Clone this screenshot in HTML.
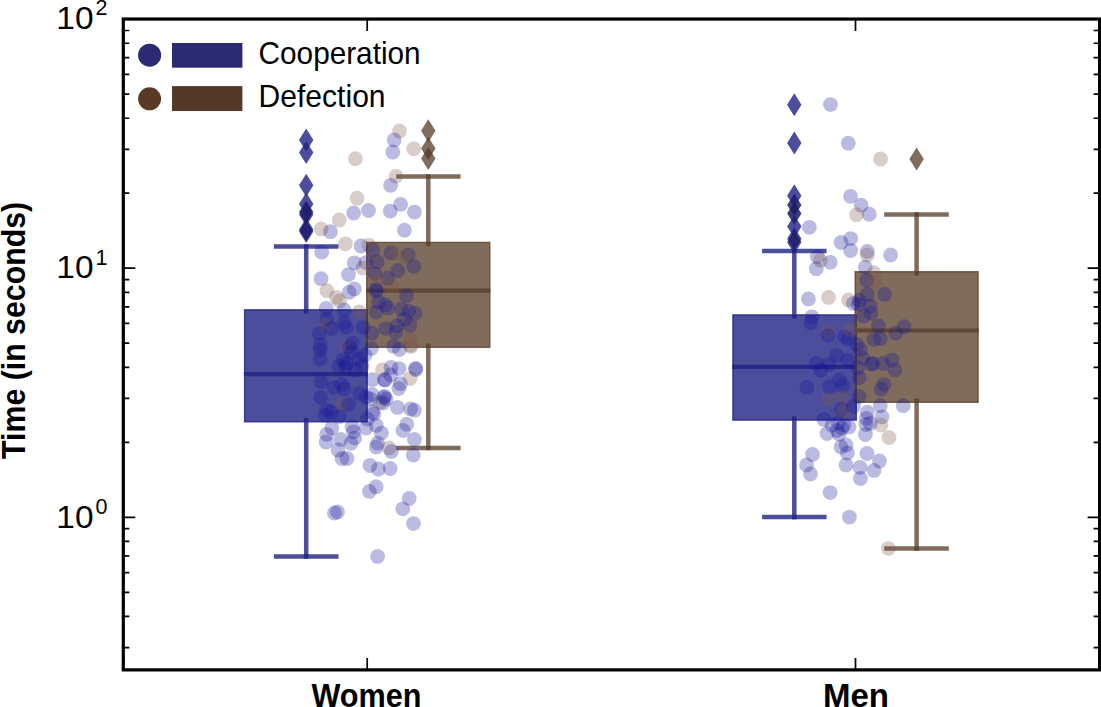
<!DOCTYPE html>
<html><head><meta charset="utf-8"><style>
html,body{margin:0;padding:0;background:#fff;width:1101px;height:707px;overflow:hidden}
svg{display:block}
text{font-family:"Liberation Sans",sans-serif;fill:#000}
.bl{font-weight:bold}
</style></head><body>
<svg width="1101" height="707" viewBox="0 0 1101 707">
<rect x="244.6" y="309.8" width="122.60" height="112.00" fill="rgba(31,34,131,0.8)" stroke="rgba(31,34,131,0.8)" stroke-width="1.4"/>
<line x1="306.2" y1="313.6" x2="306.2" y2="244.15" stroke="rgba(31,34,131,0.8)" stroke-width="4.5"/>
<line x1="306.2" y1="418.0" x2="306.2" y2="558.75" stroke="rgba(31,34,131,0.8)" stroke-width="4.5"/>
<line x1="273.9" y1="246.4" x2="338.5" y2="246.4" stroke="rgba(31,34,131,0.8)" stroke-width="4.5"/>
<line x1="273.9" y1="556.5" x2="338.5" y2="556.5" stroke="rgba(31,34,131,0.8)" stroke-width="4.5"/>
<line x1="243.9" y1="374.2" x2="367.9" y2="374.2" stroke="rgba(31,34,131,0.8)" stroke-width="4.2"/>
<path d="M306.2 128.6L313.4 140.1L306.2 151.6L299.0 140.1Z" fill="rgba(31,34,131,0.8)"/>
<path d="M306.2 140.9L313.4 152.4L306.2 163.9L299.0 152.4Z" fill="rgba(31,34,131,0.8)"/>
<path d="M306.2 173.8L313.4 185.3L306.2 196.8L299.0 185.3Z" fill="rgba(31,34,131,0.8)"/>
<path d="M306.2 192.4L313.4 203.9L306.2 215.4L299.0 203.9Z" fill="rgba(31,34,131,0.8)"/>
<path d="M306.2 200.4L313.4 211.9L306.2 223.4L299.0 211.9Z" fill="rgba(31,34,131,0.8)"/>
<path d="M306.2 203.0L313.4 214.5L306.2 226.0L299.0 214.5Z" fill="rgba(31,34,131,0.8)"/>
<path d="M306.2 218.0L313.4 229.5L306.2 241.0L299.0 229.5Z" fill="rgba(31,34,131,0.8)"/>
<path d="M306.2 220.0L313.4 231.5L306.2 243.0L299.0 231.5Z" fill="rgba(31,34,131,0.8)"/>
<path d="M306.2 201.4L312.8 211.9L306.2 222.4L299.59999999999997 211.9Z" fill="rgba(30,25,70,0.35)"/>
<path d="M306.2 220.0L312.8 230.5L306.2 241.0L299.59999999999997 230.5Z" fill="rgba(30,25,70,0.35)"/>
<rect x="366.7" y="242.39999999999998" width="123.10" height="104.90" fill="rgba(84,59,39,0.75)" stroke="rgba(84,59,39,0.75)" stroke-width="1.4"/>
<line x1="428.3" y1="246.2" x2="428.3" y2="174.25" stroke="rgba(84,59,39,0.75)" stroke-width="4.5"/>
<line x1="428.3" y1="343.5" x2="428.3" y2="450.15" stroke="rgba(84,59,39,0.75)" stroke-width="4.5"/>
<line x1="396.2" y1="176.5" x2="460.6" y2="176.5" stroke="rgba(84,59,39,0.75)" stroke-width="4.5"/>
<line x1="396.2" y1="447.9" x2="460.6" y2="447.9" stroke="rgba(84,59,39,0.75)" stroke-width="4.5"/>
<line x1="366.0" y1="290.7" x2="490.5" y2="290.7" stroke="rgba(84,59,39,0.75)" stroke-width="4.2"/>
<path d="M428.3 119.30000000000001L435.5 130.8L428.3 142.3L421.1 130.8Z" fill="rgba(84,59,39,0.75)"/>
<path d="M428.3 137.1L435.5 148.6L428.3 160.1L421.1 148.6Z" fill="rgba(84,59,39,0.75)"/>
<path d="M428.3 147.0L435.5 158.5L428.3 170.0L421.1 158.5Z" fill="rgba(84,59,39,0.75)"/>
<rect x="732.9000000000001" y="314.9" width="123.40" height="105.20" fill="rgba(31,34,131,0.8)" stroke="rgba(31,34,131,0.8)" stroke-width="1.4"/>
<line x1="794.3" y1="318.7" x2="794.3" y2="248.75" stroke="rgba(31,34,131,0.8)" stroke-width="4.5"/>
<line x1="794.3" y1="416.3" x2="794.3" y2="519.35" stroke="rgba(31,34,131,0.8)" stroke-width="4.5"/>
<line x1="762.1" y1="251.0" x2="826.6" y2="251.0" stroke="rgba(31,34,131,0.8)" stroke-width="4.5"/>
<line x1="762.1" y1="517.1" x2="826.6" y2="517.1" stroke="rgba(31,34,131,0.8)" stroke-width="4.5"/>
<line x1="732.2" y1="366.9" x2="857.0" y2="366.9" stroke="rgba(31,34,131,0.8)" stroke-width="4.2"/>
<path d="M794.3 93.2L801.5 104.7L794.3 116.2L787.0999999999999 104.7Z" fill="rgba(31,34,131,0.8)"/>
<path d="M794.3 131.6L801.5 143.1L794.3 154.6L787.0999999999999 143.1Z" fill="rgba(31,34,131,0.8)"/>
<path d="M794.3 184.3L801.5 195.8L794.3 207.3L787.0999999999999 195.8Z" fill="rgba(31,34,131,0.8)"/>
<path d="M794.3 193.4L801.5 204.9L794.3 216.4L787.0999999999999 204.9Z" fill="rgba(31,34,131,0.8)"/>
<path d="M794.3 201.9L801.5 213.4L794.3 224.9L787.0999999999999 213.4Z" fill="rgba(31,34,131,0.8)"/>
<path d="M794.3 214.9L801.5 226.4L794.3 237.9L787.0999999999999 226.4Z" fill="rgba(31,34,131,0.8)"/>
<path d="M794.3 227.3L801.5 238.8L794.3 250.3L787.0999999999999 238.8Z" fill="rgba(31,34,131,0.8)"/>
<path d="M794.3 230.7L801.5 242.2L794.3 253.7L787.0999999999999 242.2Z" fill="rgba(31,34,131,0.8)"/>
<path d="M794.3 194.4L800.9 204.9L794.3 215.4L787.6999999999999 204.9Z" fill="rgba(30,25,70,0.35)"/>
<path d="M794.3 202.9L800.9 213.4L794.3 223.9L787.6999999999999 213.4Z" fill="rgba(30,25,70,0.35)"/>
<path d="M794.3 230.0L800.9 240.5L794.3 251.0L787.6999999999999 240.5Z" fill="rgba(30,25,70,0.35)"/>
<rect x="855.2" y="271.7" width="122.90" height="130.60" fill="rgba(84,59,39,0.75)" stroke="rgba(84,59,39,0.75)" stroke-width="1.4"/>
<line x1="916.6" y1="275.5" x2="916.6" y2="212.15" stroke="rgba(84,59,39,0.75)" stroke-width="4.5"/>
<line x1="916.6" y1="398.5" x2="916.6" y2="550.85" stroke="rgba(84,59,39,0.75)" stroke-width="4.5"/>
<line x1="884.2" y1="214.4" x2="948.8" y2="214.4" stroke="rgba(84,59,39,0.75)" stroke-width="4.5"/>
<line x1="884.2" y1="548.6" x2="948.8" y2="548.6" stroke="rgba(84,59,39,0.75)" stroke-width="4.5"/>
<line x1="854.5" y1="330.5" x2="978.8" y2="330.5" stroke="rgba(84,59,39,0.75)" stroke-width="4.2"/>
<path d="M916.6 147.4L923.8000000000001 158.9L916.6 170.4L909.4 158.9Z" fill="rgba(84,59,39,0.75)"/>
<circle cx="399.5" cy="131.0" r="7.4" fill="rgba(125,88,72,0.3)"/>
<circle cx="394.2" cy="139.9" r="7.4" fill="rgba(22,22,150,0.29)"/>
<circle cx="392.8" cy="152.0" r="7.4" fill="rgba(22,22,150,0.29)"/>
<circle cx="413.8" cy="148.8" r="7.4" fill="rgba(125,88,72,0.3)"/>
<circle cx="355.4" cy="158.7" r="7.4" fill="rgba(125,88,72,0.3)"/>
<circle cx="396.0" cy="176.2" r="7.4" fill="rgba(125,88,72,0.3)"/>
<circle cx="390.6" cy="185.3" r="7.4" fill="rgba(22,22,150,0.29)"/>
<circle cx="357.0" cy="198.2" r="7.4" fill="rgba(125,88,72,0.3)"/>
<circle cx="400.6" cy="204.3" r="7.4" fill="rgba(22,22,150,0.29)"/>
<circle cx="353.6" cy="213.0" r="7.4" fill="rgba(22,22,150,0.29)"/>
<circle cx="368.5" cy="210.5" r="7.4" fill="rgba(22,22,150,0.29)"/>
<circle cx="390.2" cy="211.1" r="7.4" fill="rgba(22,22,150,0.29)"/>
<circle cx="414.4" cy="212.1" r="7.4" fill="rgba(22,22,150,0.29)"/>
<circle cx="404.4" cy="230.2" r="7.4" fill="rgba(22,22,150,0.29)"/>
<circle cx="339.3" cy="220.0" r="7.4" fill="rgba(125,88,72,0.3)"/>
<circle cx="321.2" cy="228.9" r="7.4" fill="rgba(125,88,72,0.3)"/>
<circle cx="330.4" cy="231.7" r="7.4" fill="rgba(22,22,150,0.29)"/>
<circle cx="345.4" cy="243.8" r="7.4" fill="rgba(125,88,72,0.3)"/>
<circle cx="321.7" cy="252.1" r="7.4" fill="rgba(22,22,150,0.29)"/>
<circle cx="361.0" cy="246.0" r="7.4" fill="rgba(22,22,150,0.29)"/>
<circle cx="368.8" cy="245.1" r="7.4" fill="rgba(125,88,72,0.3)"/>
<circle cx="372.9" cy="249.7" r="7.4" fill="rgba(22,22,150,0.29)"/>
<circle cx="390.9" cy="252.9" r="7.4" fill="rgba(22,22,150,0.29)"/>
<circle cx="396.8" cy="253.4" r="7.4" fill="rgba(125,88,72,0.3)"/>
<circle cx="408.3" cy="254.8" r="7.4" fill="rgba(22,22,150,0.29)"/>
<circle cx="406.5" cy="257.5" r="7.4" fill="rgba(125,88,72,0.3)"/>
<circle cx="413.9" cy="266.3" r="7.4" fill="rgba(22,22,150,0.29)"/>
<circle cx="377.1" cy="261.7" r="7.4" fill="rgba(22,22,150,0.29)"/>
<circle cx="366.0" cy="262.6" r="7.4" fill="rgba(22,22,150,0.29)"/>
<circle cx="362.8" cy="268.1" r="7.4" fill="rgba(125,88,72,0.3)"/>
<circle cx="397.8" cy="270.4" r="7.4" fill="rgba(22,22,150,0.29)"/>
<circle cx="374.8" cy="273.6" r="7.4" fill="rgba(22,22,150,0.29)"/>
<circle cx="387.6" cy="278.2" r="7.4" fill="rgba(22,22,150,0.29)"/>
<circle cx="377.5" cy="281.9" r="7.4" fill="rgba(125,88,72,0.3)"/>
<circle cx="391.8" cy="286.5" r="7.4" fill="rgba(125,88,72,0.3)"/>
<circle cx="376.1" cy="289.3" r="7.4" fill="rgba(22,22,150,0.29)"/>
<circle cx="376.1" cy="291.0" r="7.4" fill="rgba(22,22,150,0.29)"/>
<circle cx="406.5" cy="295.7" r="7.4" fill="rgba(22,22,150,0.29)"/>
<circle cx="354.3" cy="289.0" r="7.4" fill="rgba(22,22,150,0.29)"/>
<circle cx="349.2" cy="292.2" r="7.4" fill="rgba(22,22,150,0.29)"/>
<circle cx="354.3" cy="262.8" r="7.4" fill="rgba(22,22,150,0.29)"/>
<circle cx="348.5" cy="274.6" r="7.4" fill="rgba(22,22,150,0.29)"/>
<circle cx="321.0" cy="278.7" r="7.4" fill="rgba(22,22,150,0.29)"/>
<circle cx="326.9" cy="290.7" r="7.4" fill="rgba(125,88,72,0.3)"/>
<circle cx="336.3" cy="297.3" r="7.4" fill="rgba(125,88,72,0.3)"/>
<circle cx="339.5" cy="301.0" r="7.4" fill="rgba(125,88,72,0.3)"/>
<circle cx="326.2" cy="308.3" r="7.4" fill="rgba(22,22,150,0.29)"/>
<circle cx="344.1" cy="310.0" r="7.4" fill="rgba(22,22,150,0.29)"/>
<circle cx="359.3" cy="312.0" r="7.4" fill="rgba(125,88,72,0.3)"/>
<circle cx="326.7" cy="319.3" r="7.4" fill="rgba(22,22,150,0.29)"/>
<circle cx="325.3" cy="325.7" r="7.4" fill="rgba(125,88,72,0.3)"/>
<circle cx="331.3" cy="328.5" r="7.4" fill="rgba(22,22,150,0.29)"/>
<circle cx="319.3" cy="333.6" r="7.4" fill="rgba(22,22,150,0.29)"/>
<circle cx="344.1" cy="323.0" r="7.4" fill="rgba(22,22,150,0.29)"/>
<circle cx="346.0" cy="327.6" r="7.4" fill="rgba(22,22,150,0.29)"/>
<circle cx="363.4" cy="327.6" r="7.4" fill="rgba(22,22,150,0.29)"/>
<circle cx="320.2" cy="345.1" r="7.4" fill="rgba(22,22,150,0.29)"/>
<circle cx="320.2" cy="349.7" r="7.4" fill="rgba(22,22,150,0.29)"/>
<circle cx="320.2" cy="358.9" r="7.4" fill="rgba(22,22,150,0.29)"/>
<circle cx="346.4" cy="346.0" r="7.4" fill="rgba(125,88,72,0.3)"/>
<circle cx="352.4" cy="343.2" r="7.4" fill="rgba(22,22,150,0.29)"/>
<circle cx="358.9" cy="358.9" r="7.4" fill="rgba(22,22,150,0.29)"/>
<circle cx="343.2" cy="359.8" r="7.4" fill="rgba(22,22,150,0.29)"/>
<circle cx="346.0" cy="367.0" r="7.4" fill="rgba(22,22,150,0.29)"/>
<circle cx="321.1" cy="381.7" r="7.4" fill="rgba(22,22,150,0.29)"/>
<circle cx="334.0" cy="387.6" r="7.4" fill="rgba(22,22,150,0.29)"/>
<circle cx="341.8" cy="384.4" r="7.4" fill="rgba(22,22,150,0.29)"/>
<circle cx="344.1" cy="389.0" r="7.4" fill="rgba(22,22,150,0.29)"/>
<circle cx="359.7" cy="393.6" r="7.4" fill="rgba(22,22,150,0.29)"/>
<circle cx="320.7" cy="397.3" r="7.4" fill="rgba(22,22,150,0.29)"/>
<circle cx="341.4" cy="404.6" r="7.4" fill="rgba(125,88,72,0.3)"/>
<circle cx="348.7" cy="404.6" r="7.4" fill="rgba(22,22,150,0.29)"/>
<circle cx="326.7" cy="410.1" r="7.4" fill="rgba(22,22,150,0.29)"/>
<circle cx="331.3" cy="412.0" r="7.4" fill="rgba(22,22,150,0.29)"/>
<circle cx="366.2" cy="397.3" r="7.4" fill="rgba(22,22,150,0.29)"/>
<circle cx="382.6" cy="369.8" r="7.4" fill="rgba(125,88,72,0.3)"/>
<circle cx="391.1" cy="367.4" r="7.4" fill="rgba(22,22,150,0.29)"/>
<circle cx="399.0" cy="368.6" r="7.4" fill="rgba(22,22,150,0.29)"/>
<circle cx="384.5" cy="379.7" r="7.4" fill="rgba(22,22,150,0.29)"/>
<circle cx="372.5" cy="379.7" r="7.4" fill="rgba(22,22,150,0.29)"/>
<circle cx="398.8" cy="388.5" r="7.4" fill="rgba(22,22,150,0.29)"/>
<circle cx="372.0" cy="394.5" r="7.4" fill="rgba(22,22,150,0.29)"/>
<circle cx="384.5" cy="396.3" r="7.4" fill="rgba(22,22,150,0.29)"/>
<circle cx="380.0" cy="402.5" r="7.4" fill="rgba(125,88,72,0.3)"/>
<circle cx="383.0" cy="403.0" r="7.4" fill="rgba(22,22,150,0.29)"/>
<circle cx="397.4" cy="407.4" r="7.4" fill="rgba(22,22,150,0.29)"/>
<circle cx="372.6" cy="412.0" r="7.4" fill="rgba(22,22,150,0.29)"/>
<circle cx="378.4" cy="302.0" r="7.4" fill="rgba(22,22,150,0.29)"/>
<circle cx="385.3" cy="304.7" r="7.4" fill="rgba(22,22,150,0.29)"/>
<circle cx="387.6" cy="307.9" r="7.4" fill="rgba(22,22,150,0.29)"/>
<circle cx="376.1" cy="312.1" r="7.4" fill="rgba(22,22,150,0.29)"/>
<circle cx="401.4" cy="308.9" r="7.4" fill="rgba(22,22,150,0.29)"/>
<circle cx="408.7" cy="311.1" r="7.4" fill="rgba(22,22,150,0.29)"/>
<circle cx="415.2" cy="313.4" r="7.4" fill="rgba(22,22,150,0.29)"/>
<circle cx="404.1" cy="319.4" r="7.4" fill="rgba(22,22,150,0.29)"/>
<circle cx="409.7" cy="325.4" r="7.4" fill="rgba(22,22,150,0.29)"/>
<circle cx="396.8" cy="325.9" r="7.4" fill="rgba(22,22,150,0.29)"/>
<circle cx="385.7" cy="328.6" r="7.4" fill="rgba(22,22,150,0.29)"/>
<circle cx="372.0" cy="333.2" r="7.4" fill="rgba(22,22,150,0.29)"/>
<circle cx="395.9" cy="332.3" r="7.4" fill="rgba(22,22,150,0.29)"/>
<circle cx="410.1" cy="338.7" r="7.4" fill="rgba(125,88,72,0.3)"/>
<circle cx="410.6" cy="345.2" r="7.4" fill="rgba(125,88,72,0.3)"/>
<circle cx="393.5" cy="346.2" r="7.4" fill="rgba(22,22,150,0.29)"/>
<circle cx="399.5" cy="349.5" r="7.4" fill="rgba(22,22,150,0.29)"/>
<circle cx="371.4" cy="348.6" r="7.4" fill="rgba(22,22,150,0.29)"/>
<circle cx="411.0" cy="346.4" r="7.4" fill="rgba(125,88,72,0.3)"/>
<circle cx="415.6" cy="368.5" r="7.4" fill="rgba(22,22,150,0.29)"/>
<circle cx="390.7" cy="375.0" r="7.4" fill="rgba(22,22,150,0.29)"/>
<circle cx="410.1" cy="378.6" r="7.4" fill="rgba(125,88,72,0.3)"/>
<circle cx="400.4" cy="383.7" r="7.4" fill="rgba(22,22,150,0.29)"/>
<circle cx="386.1" cy="398.9" r="7.4" fill="rgba(22,22,150,0.29)"/>
<circle cx="370.5" cy="398.9" r="7.4" fill="rgba(22,22,150,0.29)"/>
<circle cx="325.4" cy="415.3" r="7.4" fill="rgba(22,22,150,0.29)"/>
<circle cx="339.4" cy="416.5" r="7.4" fill="rgba(22,22,150,0.29)"/>
<circle cx="367.4" cy="419.1" r="7.4" fill="rgba(22,22,150,0.29)"/>
<circle cx="410.6" cy="408.9" r="7.4" fill="rgba(22,22,150,0.29)"/>
<circle cx="414.4" cy="410.2" r="7.4" fill="rgba(22,22,150,0.29)"/>
<circle cx="331.8" cy="428.0" r="7.4" fill="rgba(22,22,150,0.29)"/>
<circle cx="326.7" cy="434.3" r="7.4" fill="rgba(22,22,150,0.29)"/>
<circle cx="326.1" cy="442.0" r="7.4" fill="rgba(22,22,150,0.29)"/>
<circle cx="338.1" cy="450.0" r="7.4" fill="rgba(22,22,150,0.29)"/>
<circle cx="340.7" cy="439.4" r="7.4" fill="rgba(22,22,150,0.29)"/>
<circle cx="352.1" cy="426.7" r="7.4" fill="rgba(22,22,150,0.29)"/>
<circle cx="353.4" cy="431.8" r="7.4" fill="rgba(22,22,150,0.29)"/>
<circle cx="354.7" cy="438.1" r="7.4" fill="rgba(22,22,150,0.29)"/>
<circle cx="350.9" cy="443.2" r="7.4" fill="rgba(22,22,150,0.29)"/>
<circle cx="342.0" cy="458.5" r="7.4" fill="rgba(22,22,150,0.29)"/>
<circle cx="347.0" cy="458.5" r="7.4" fill="rgba(22,22,150,0.29)"/>
<circle cx="366.1" cy="428.0" r="7.4" fill="rgba(22,22,150,0.29)"/>
<circle cx="373.8" cy="414.0" r="7.4" fill="rgba(22,22,150,0.29)"/>
<circle cx="376.3" cy="425.4" r="7.4" fill="rgba(22,22,150,0.29)"/>
<circle cx="381.4" cy="433.1" r="7.4" fill="rgba(22,22,150,0.29)"/>
<circle cx="377.6" cy="443.2" r="7.4" fill="rgba(22,22,150,0.29)"/>
<circle cx="376.3" cy="447.0" r="7.4" fill="rgba(22,22,150,0.29)"/>
<circle cx="389.0" cy="448.0" r="7.4" fill="rgba(125,88,72,0.3)"/>
<circle cx="391.4" cy="451.5" r="7.4" fill="rgba(22,22,150,0.29)"/>
<circle cx="369.9" cy="465.5" r="7.4" fill="rgba(22,22,150,0.29)"/>
<circle cx="378.4" cy="469.0" r="7.4" fill="rgba(22,22,150,0.29)"/>
<circle cx="390.2" cy="468.5" r="7.4" fill="rgba(22,22,150,0.29)"/>
<circle cx="403.0" cy="430.5" r="7.4" fill="rgba(22,22,150,0.29)"/>
<circle cx="406.8" cy="424.2" r="7.4" fill="rgba(22,22,150,0.29)"/>
<circle cx="414.4" cy="439.4" r="7.4" fill="rgba(22,22,150,0.29)"/>
<circle cx="413.2" cy="455.0" r="7.4" fill="rgba(22,22,150,0.29)"/>
<circle cx="376.1" cy="486.7" r="7.4" fill="rgba(22,22,150,0.29)"/>
<circle cx="369.4" cy="491.4" r="7.4" fill="rgba(22,22,150,0.29)"/>
<circle cx="409.2" cy="498.4" r="7.4" fill="rgba(22,22,150,0.29)"/>
<circle cx="402.8" cy="508.8" r="7.4" fill="rgba(22,22,150,0.29)"/>
<circle cx="413.5" cy="523.6" r="7.4" fill="rgba(22,22,150,0.29)"/>
<circle cx="334.4" cy="513.0" r="7.4" fill="rgba(22,22,150,0.29)"/>
<circle cx="337.5" cy="512.0" r="7.4" fill="rgba(22,22,150,0.29)"/>
<circle cx="377.6" cy="556.4" r="7.4" fill="rgba(22,22,150,0.29)"/>
<circle cx="415.8" cy="369.5" r="7.4" fill="rgba(22,22,150,0.29)"/>
<circle cx="385.0" cy="380.0" r="7.4" fill="rgba(22,22,150,0.29)"/>
<circle cx="384.0" cy="397.5" r="7.4" fill="rgba(22,22,150,0.29)"/>
<circle cx="352.0" cy="352.0" r="7.4" fill="rgba(22,22,150,0.29)"/>
<circle cx="362.0" cy="366.0" r="7.4" fill="rgba(22,22,150,0.29)"/>
<circle cx="339.0" cy="366.0" r="7.4" fill="rgba(22,22,150,0.29)"/>
<circle cx="355.0" cy="370.0" r="7.4" fill="rgba(22,22,150,0.29)"/>
<circle cx="365.0" cy="355.0" r="7.4" fill="rgba(22,22,150,0.29)"/>
<circle cx="349.1" cy="347.0" r="7.4" fill="rgba(22,22,150,0.29)"/>
<circle cx="346.3" cy="363.2" r="7.4" fill="rgba(22,22,150,0.29)"/>
<circle cx="830.5" cy="104.6" r="7.4" fill="rgba(22,22,150,0.29)"/>
<circle cx="848.3" cy="143.2" r="7.4" fill="rgba(22,22,150,0.29)"/>
<circle cx="880.6" cy="159.0" r="7.4" fill="rgba(125,88,72,0.3)"/>
<circle cx="850.5" cy="196.3" r="7.4" fill="rgba(22,22,150,0.29)"/>
<circle cx="861.2" cy="205.2" r="7.4" fill="rgba(22,22,150,0.29)"/>
<circle cx="856.6" cy="214.7" r="7.4" fill="rgba(125,88,72,0.3)"/>
<circle cx="869.3" cy="214.2" r="7.4" fill="rgba(22,22,150,0.29)"/>
<circle cx="809.4" cy="227.3" r="7.4" fill="rgba(22,22,150,0.29)"/>
<circle cx="841.1" cy="242.5" r="7.4" fill="rgba(22,22,150,0.29)"/>
<circle cx="850.7" cy="238.6" r="7.4" fill="rgba(22,22,150,0.29)"/>
<circle cx="850.6" cy="250.5" r="7.4" fill="rgba(22,22,150,0.29)"/>
<circle cx="867.3" cy="251.5" r="7.4" fill="rgba(22,22,150,0.29)"/>
<circle cx="867.3" cy="254.9" r="7.4" fill="rgba(125,88,72,0.3)"/>
<circle cx="890.6" cy="255.0" r="7.4" fill="rgba(22,22,150,0.29)"/>
<circle cx="817.3" cy="256.8" r="7.4" fill="rgba(22,22,150,0.29)"/>
<circle cx="820.3" cy="260.3" r="7.4" fill="rgba(125,88,72,0.3)"/>
<circle cx="830.2" cy="262.3" r="7.4" fill="rgba(22,22,150,0.29)"/>
<circle cx="816.3" cy="268.7" r="7.4" fill="rgba(22,22,150,0.29)"/>
<circle cx="865.3" cy="267.2" r="7.4" fill="rgba(22,22,150,0.29)"/>
<circle cx="873.8" cy="272.7" r="7.4" fill="rgba(125,88,72,0.3)"/>
<circle cx="866.8" cy="280.6" r="7.4" fill="rgba(22,22,150,0.29)"/>
<circle cx="875.7" cy="283.6" r="7.4" fill="rgba(125,88,72,0.3)"/>
<circle cx="867.3" cy="294.5" r="7.4" fill="rgba(22,22,150,0.29)"/>
<circle cx="884.7" cy="294.5" r="7.4" fill="rgba(22,22,150,0.29)"/>
<circle cx="808.4" cy="298.9" r="7.4" fill="rgba(22,22,150,0.29)"/>
<circle cx="828.5" cy="297.4" r="7.4" fill="rgba(125,88,72,0.3)"/>
<circle cx="848.5" cy="299.9" r="7.4" fill="rgba(125,88,72,0.3)"/>
<circle cx="853.5" cy="303.4" r="7.4" fill="rgba(22,22,150,0.29)"/>
<circle cx="859.4" cy="300.4" r="7.4" fill="rgba(22,22,150,0.29)"/>
<circle cx="858.4" cy="304.4" r="7.4" fill="rgba(22,22,150,0.29)"/>
<circle cx="870.5" cy="306.0" r="7.4" fill="rgba(22,22,150,0.29)"/>
<circle cx="871.0" cy="313.0" r="7.4" fill="rgba(22,22,150,0.29)"/>
<circle cx="863.7" cy="316.0" r="7.4" fill="rgba(22,22,150,0.29)"/>
<circle cx="811.9" cy="316.8" r="7.4" fill="rgba(22,22,150,0.29)"/>
<circle cx="810.9" cy="322.8" r="7.4" fill="rgba(22,22,150,0.29)"/>
<circle cx="828.2" cy="331.7" r="7.4" fill="rgba(125,88,72,0.3)"/>
<circle cx="828.2" cy="335.6" r="7.4" fill="rgba(22,22,150,0.29)"/>
<circle cx="844.6" cy="336.6" r="7.4" fill="rgba(22,22,150,0.29)"/>
<circle cx="848.5" cy="339.1" r="7.4" fill="rgba(22,22,150,0.29)"/>
<circle cx="850.5" cy="329.7" r="7.4" fill="rgba(125,88,72,0.3)"/>
<circle cx="836.6" cy="355.4" r="7.4" fill="rgba(22,22,150,0.29)"/>
<circle cx="816.3" cy="363.4" r="7.4" fill="rgba(22,22,150,0.29)"/>
<circle cx="828.7" cy="364.4" r="7.4" fill="rgba(22,22,150,0.29)"/>
<circle cx="847.5" cy="360.4" r="7.4" fill="rgba(22,22,150,0.29)"/>
<circle cx="878.4" cy="325.8" r="7.4" fill="rgba(22,22,150,0.29)"/>
<circle cx="904.1" cy="326.7" r="7.4" fill="rgba(22,22,150,0.29)"/>
<circle cx="895.8" cy="333.2" r="7.4" fill="rgba(22,22,150,0.29)"/>
<circle cx="873.8" cy="339.6" r="7.4" fill="rgba(22,22,150,0.29)"/>
<circle cx="880.2" cy="338.7" r="7.4" fill="rgba(22,22,150,0.29)"/>
<circle cx="860.4" cy="349.5" r="7.4" fill="rgba(22,22,150,0.29)"/>
<circle cx="862.8" cy="358.0" r="7.4" fill="rgba(22,22,150,0.29)"/>
<circle cx="872.9" cy="363.5" r="7.4" fill="rgba(22,22,150,0.29)"/>
<circle cx="883.0" cy="363.5" r="7.4" fill="rgba(22,22,150,0.29)"/>
<circle cx="892.2" cy="359.8" r="7.4" fill="rgba(22,22,150,0.29)"/>
<circle cx="894.9" cy="369.9" r="7.4" fill="rgba(22,22,150,0.29)"/>
<circle cx="871.3" cy="364.0" r="7.4" fill="rgba(22,22,150,0.29)"/>
<circle cx="820.8" cy="369.9" r="7.4" fill="rgba(22,22,150,0.29)"/>
<circle cx="806.9" cy="387.2" r="7.4" fill="rgba(22,22,150,0.29)"/>
<circle cx="839.6" cy="379.8" r="7.4" fill="rgba(22,22,150,0.29)"/>
<circle cx="829.7" cy="386.7" r="7.4" fill="rgba(22,22,150,0.29)"/>
<circle cx="842.6" cy="385.7" r="7.4" fill="rgba(22,22,150,0.29)"/>
<circle cx="828.7" cy="399.6" r="7.4" fill="rgba(125,88,72,0.3)"/>
<circle cx="842.6" cy="397.6" r="7.4" fill="rgba(125,88,72,0.3)"/>
<circle cx="841.6" cy="409.5" r="7.4" fill="rgba(22,22,150,0.29)"/>
<circle cx="843.6" cy="411.5" r="7.4" fill="rgba(125,88,72,0.3)"/>
<circle cx="823.8" cy="419.4" r="7.4" fill="rgba(22,22,150,0.29)"/>
<circle cx="853.5" cy="406.5" r="7.4" fill="rgba(22,22,150,0.29)"/>
<circle cx="859.4" cy="377.8" r="7.4" fill="rgba(22,22,150,0.29)"/>
<circle cx="883.9" cy="384.6" r="7.4" fill="rgba(22,22,150,0.29)"/>
<circle cx="881.1" cy="389.2" r="7.4" fill="rgba(22,22,150,0.29)"/>
<circle cx="859.4" cy="396.6" r="7.4" fill="rgba(22,22,150,0.29)"/>
<circle cx="880.2" cy="405.7" r="7.4" fill="rgba(22,22,150,0.29)"/>
<circle cx="903.2" cy="405.7" r="7.4" fill="rgba(22,22,150,0.29)"/>
<circle cx="867.3" cy="412.2" r="7.4" fill="rgba(22,22,150,0.29)"/>
<circle cx="882.0" cy="416.8" r="7.4" fill="rgba(22,22,150,0.29)"/>
<circle cx="866.3" cy="418.4" r="7.4" fill="rgba(22,22,150,0.29)"/>
<circle cx="881.0" cy="425.0" r="7.4" fill="rgba(125,88,72,0.3)"/>
<circle cx="870.3" cy="423.4" r="7.4" fill="rgba(22,22,150,0.29)"/>
<circle cx="832.0" cy="425.0" r="7.4" fill="rgba(22,22,150,0.29)"/>
<circle cx="838.0" cy="423.0" r="7.4" fill="rgba(22,22,150,0.29)"/>
<circle cx="844.0" cy="425.0" r="7.4" fill="rgba(22,22,150,0.29)"/>
<circle cx="849.0" cy="427.0" r="7.4" fill="rgba(22,22,150,0.29)"/>
<circle cx="827.0" cy="433.5" r="7.4" fill="rgba(22,22,150,0.29)"/>
<circle cx="837.0" cy="430.5" r="7.4" fill="rgba(22,22,150,0.29)"/>
<circle cx="839.0" cy="434.0" r="7.4" fill="rgba(22,22,150,0.29)"/>
<circle cx="842.0" cy="428.0" r="7.4" fill="rgba(22,22,150,0.29)"/>
<circle cx="866.0" cy="424.5" r="7.4" fill="rgba(22,22,150,0.29)"/>
<circle cx="889.0" cy="437.5" r="7.4" fill="rgba(125,88,72,0.3)"/>
<circle cx="865.4" cy="434.5" r="7.4" fill="rgba(22,22,150,0.29)"/>
<circle cx="841.0" cy="447.0" r="7.4" fill="rgba(22,22,150,0.29)"/>
<circle cx="846.0" cy="445.0" r="7.4" fill="rgba(22,22,150,0.29)"/>
<circle cx="847.4" cy="453.0" r="7.4" fill="rgba(22,22,150,0.29)"/>
<circle cx="812.5" cy="454.5" r="7.4" fill="rgba(22,22,150,0.29)"/>
<circle cx="806.5" cy="465.0" r="7.4" fill="rgba(22,22,150,0.29)"/>
<circle cx="810.5" cy="474.0" r="7.4" fill="rgba(22,22,150,0.29)"/>
<circle cx="846.0" cy="465.0" r="7.4" fill="rgba(22,22,150,0.29)"/>
<circle cx="860.0" cy="467.4" r="7.4" fill="rgba(22,22,150,0.29)"/>
<circle cx="867.0" cy="453.5" r="7.4" fill="rgba(22,22,150,0.29)"/>
<circle cx="879.4" cy="461.0" r="7.4" fill="rgba(22,22,150,0.29)"/>
<circle cx="874.0" cy="470.4" r="7.4" fill="rgba(22,22,150,0.29)"/>
<circle cx="860.4" cy="478.5" r="7.4" fill="rgba(22,22,150,0.29)"/>
<circle cx="830.2" cy="492.6" r="7.4" fill="rgba(22,22,150,0.29)"/>
<circle cx="849.4" cy="517.1" r="7.4" fill="rgba(22,22,150,0.29)"/>
<circle cx="857.0" cy="344.5" r="7.4" fill="rgba(22,22,150,0.29)"/>
<circle cx="858.0" cy="368.0" r="7.4" fill="rgba(22,22,150,0.29)"/>
<circle cx="888.4" cy="548.6" r="7.4" fill="rgba(125,88,72,0.3)"/>
<path d="M123.3 647.55h6M1099.6 647.55h-6M123.3 616.43h6M1099.6 616.43h-6M123.3 592.29h6M1099.6 592.29h-6M123.3 572.56h6M1099.6 572.56h-6M123.3 555.89h6M1099.6 555.89h-6M123.3 541.44h6M1099.6 541.44h-6M123.3 528.70h6M1099.6 528.70h-6M123.3 517.30h12M1099.6 517.30h-12M123.3 442.31h6M1099.6 442.31h-6M123.3 398.45h6M1099.6 398.45h-6M123.3 367.33h6M1099.6 367.33h-6M123.3 343.19h6M1099.6 343.19h-6M123.3 323.46h6M1099.6 323.46h-6M123.3 306.79h6M1099.6 306.79h-6M123.3 292.34h6M1099.6 292.34h-6M123.3 279.60h6M1099.6 279.60h-6M123.3 268.20h12M1099.6 268.20h-12M123.3 193.21h6M1099.6 193.21h-6M123.3 149.35h6M1099.6 149.35h-6M123.3 118.23h6M1099.6 118.23h-6M123.3 94.09h6M1099.6 94.09h-6M123.3 74.36h6M1099.6 74.36h-6M123.3 57.69h6M1099.6 57.69h-6M123.3 43.24h6M1099.6 43.24h-6M123.3 30.50h6M1099.6 30.50h-6M367.2 669.9v-12M367.2 19.05v12M855.5 669.9v-12M855.5 19.05v12" stroke="#000" stroke-width="1.7" fill="none"/>
<rect x="123.3" y="19.05" width="976.30" height="650.85" fill="none" stroke="#000" stroke-width="3.2"/>
<text x="56.3" y="29.25" font-size="31" textLength="37.2" lengthAdjust="spacingAndGlyphs" class="tl">10</text>
<text x="95.5" y="15.45" font-size="21.5" class="tl">2</text>
<text x="56.3" y="278.40" font-size="31" textLength="37.2" lengthAdjust="spacingAndGlyphs" class="tl">10</text>
<text x="95.5" y="264.60" font-size="21.5" class="tl">1</text>
<text x="56.3" y="527.50" font-size="31" textLength="37.2" lengthAdjust="spacingAndGlyphs" class="tl">10</text>
<text x="95.5" y="513.70" font-size="21.5" class="tl">0</text>
<text transform="translate(24.8,330.4) rotate(-90)" text-anchor="middle" class="bl" font-size="32.5" textLength="257" lengthAdjust="spacingAndGlyphs">Time (in seconds)</text>
<text x="366.5" y="707.2" text-anchor="middle" class="bl" font-size="33" textLength="110" lengthAdjust="spacingAndGlyphs">Women</text>
<text x="856" y="707.2" text-anchor="middle" class="bl" font-size="33">Men</text>
<circle cx="149.6" cy="55.2" r="11.5" fill="#2c2a73"/>
<rect x="172" y="43" width="70.4" height="24.7" fill="#2c2a73"/>
<circle cx="149.6" cy="98.8" r="11.5" fill="#583a26"/>
<rect x="172" y="86.1" width="70.4" height="24.9" fill="#553827"/>
<text x="258.6" y="64.3" font-size="31.5" textLength="162" lengthAdjust="spacingAndGlyphs" class="lg">Cooperation</text>
<text x="258.6" y="107.2" font-size="31.5" textLength="127" lengthAdjust="spacingAndGlyphs" class="lg">Defection</text>
</svg>
</body></html>
